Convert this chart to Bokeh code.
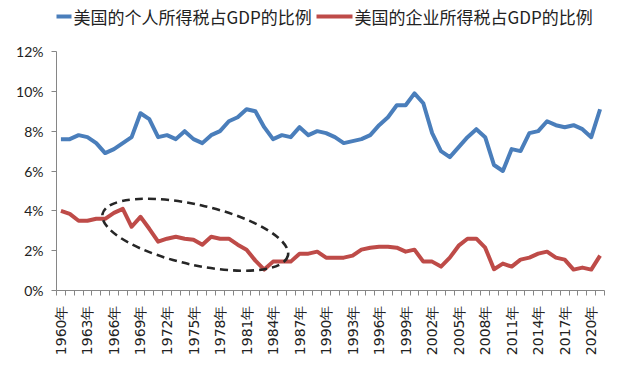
from bokeh.plotting import figure
from bokeh.layouts import column
from bokeh.models import FixedTicker, Range1d
from bokeh.core.properties import value
from bokeh.embed import file_html
from bokeh.resources import INLINE

years = list(range(1960, 2022))
individual = [7.6, 7.6, 7.8, 7.7, 7.4, 6.9, 7.1, 7.4, 7.7, 8.9,
              8.6, 7.7, 7.8, 7.6, 8.0, 7.6, 7.4, 7.8, 8.0, 8.5,
              8.7, 9.1, 9.0, 8.2, 7.6, 7.8, 7.7, 8.2, 7.8, 8.0,
              7.9, 7.7, 7.4, 7.5, 7.6, 7.8, 8.3, 8.7, 9.3, 9.3,
              9.9, 9.4, 7.9, 7.0, 6.7, 7.2, 7.7, 8.1, 7.7, 6.3,
              6.0, 7.1, 7.0, 7.9, 8.0, 8.5, 8.3, 8.2, 8.3, 8.1,
              7.7, 9.1]
corporate = [4.0, 3.85, 3.5, 3.5, 3.6, 3.6, 3.9, 4.1, 3.2, 3.7,
             3.1, 2.45, 2.6, 2.7, 2.6, 2.55, 2.3, 2.7, 2.6, 2.6,
             2.3, 2.05, 1.5, 1.05, 1.45, 1.45, 1.45, 1.85, 1.85, 1.95,
             1.65, 1.65, 1.65, 1.75, 2.05, 2.15, 2.2, 2.2, 2.15, 1.95,
             2.05, 1.45, 1.45, 1.2, 1.65, 2.25, 2.6, 2.6, 2.15, 1.07,
             1.35, 1.2, 1.55, 1.65, 1.85, 1.95, 1.65, 1.55, 1.05, 1.15,
             1.05, 1.75]
series_names = ["美国的个人所得税占GDP的比例", "美国的企业所得税占GDP的比例"]
series_colors = ["#4A7EBB", "#BE4B48"]
y_ticks = [0, 2, 4, 6, 8, 10, 12]
y_tick_labels = ["0%", "2%", "4%", "6%", "8%", "10%", "12%"]
x_label_years = years[::3]
x_tick_labels = [f"{y}年" for y in x_label_years]

# highlight ellipse (annotation)
ell_x, ell_y = 1975.2, 2.8

# layout (pixels)
W, H = 611, 363
border_left, border_right = 56, 7
leg_h = 30
leg_swatch_x0 = [35, 316]
leg_swatch_len = 36
leg_y = 14

# ---- legend strip on top (its frame is aligned with the main frame) ----
pl = figure(width=W, height=leg_h, output_backend="svg", toolbar_location=None,
            title=None, x_axis_type=None, y_axis_type=None, min_border=0,
            x_range=Range1d(border_left, W - border_right),
            y_range=Range1d(0, leg_h))
pl.outline_line_color = None
pl.grid.visible = False
pl.border_fill_color = "white"
pl.background_fill_color = "white"
pl.segment(x0=leg_swatch_x0, y0=[leg_y, leg_y],
           x1=[x + leg_swatch_len for x in leg_swatch_x0], y1=[leg_y, leg_y],
           line_color=series_colors, line_width=4)
pl.text(x=[x + leg_swatch_len + 2 for x in leg_swatch_x0], y=[leg_y, leg_y],
        text=series_names, text_baseline="middle", text_align="left",
        text_font=value("Noto Sans CJK SC"), text_font_size="17px",
        text_color="#222222")

# ---- main chart ----
p = figure(width=W, height=H - leg_h, output_backend="svg", toolbar_location=None,
           x_range=Range1d(1959.5, 2021.5), y_range=Range1d(0, 12),
           min_border_left=border_left, min_border_right=border_right,
           min_border_top=51 - leg_h, min_border_bottom=73)
p.outline_line_color = None
p.grid.visible = False
p.background_fill_color = "white"
p.border_fill_color = "white"

p.line(years, individual, line_color=series_colors[0], line_width=4, line_join="round")
p.line(years, corporate, line_color=series_colors[1], line_width=4, line_join="round")

p.ellipse(x=ell_x, y=ell_y, width=190, height=60, width_units="screen",
          height_units="screen", angle=-0.222, fill_color=None,
          line_color="#262626", line_width=2.6, line_dash="8 5")

# y axis
ya = p.yaxis[0]
ya.ticker = FixedTicker(ticks=y_ticks)
ya.major_label_overrides = {t: l for t, l in zip(y_ticks, y_tick_labels)}
ya.axis_line_color = "#868686"
ya.major_tick_line_color = "#868686"
ya.major_tick_out = 5
ya.major_tick_in = 0
ya.minor_tick_line_color = None
ya.major_label_standoff = 8
ya.major_label_text_font = "Lato"
ya.major_label_text_font_size = "14px"
ya.major_label_text_color = "#222222"

# x axis
xa = p.xaxis[0]
xa.ticker = FixedTicker(ticks=x_label_years,
                        minor_ticks=[y - 0.5 for y in years] + [years[-1] + 0.5])
xa.major_label_overrides = {t: l for t, l in zip(x_label_years, x_tick_labels)}
xa.axis_line_color = "#868686"
xa.major_tick_line_color = None
xa.major_tick_out = 5
xa.major_tick_in = 0
xa.minor_tick_line_color = "#868686"
xa.minor_tick_out = 5
xa.minor_tick_in = 0
xa.major_label_orientation = 1.5708
xa.major_label_standoff = 10
xa.major_label_text_font = "DejaVu Sans"
xa.major_label_text_font_size = "14px"
xa.major_label_text_color = "#222222"

layout = column(pl, p, spacing=0)
open("out.html", "w").write(file_html(layout, INLINE))
